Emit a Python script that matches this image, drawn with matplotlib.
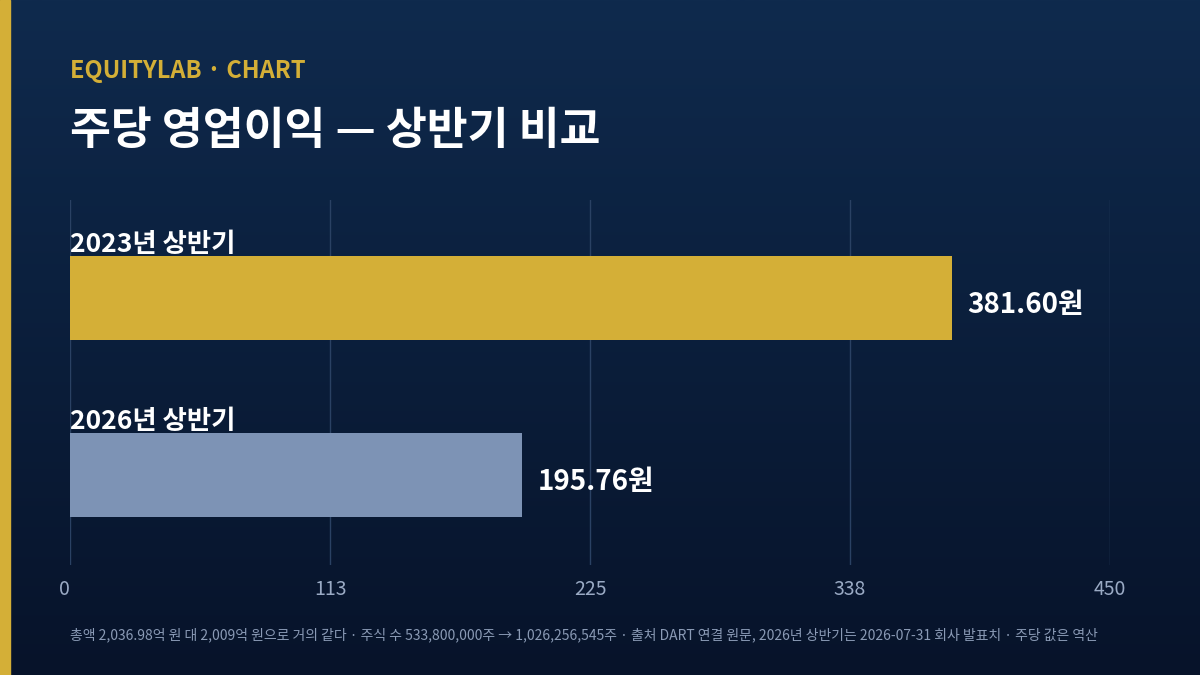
import matplotlib
matplotlib.use("Agg")
import matplotlib.pyplot as plt
import numpy as np
from matplotlib.patches import Rectangle
from matplotlib.colors import LinearSegmentedColormap

plt.rcParams['font.family'] = ['Noto Sans CJK KR', 'DejaVu Sans']

categories = ["2023년 상반기", "2026년 상반기"]
values = [381.60, 195.76]
value_labels = ["381.60원", "195.76원"]
bar_colors = ["#d4af37", "#7d93b5"]
ticks = [0, 112.5, 225, 337.5, 450]
tick_labels = ["0", "113", "225", "338", "450"]

fig = plt.figure(figsize=(12, 6.75), dpi=100)
bg = fig.add_axes([0, 0, 1, 1], zorder=-10)
grad = np.linspace(0, 1, 256).reshape(-1, 1)
cmap = LinearSegmentedColormap.from_list("bg", ["#0f2a4d", "#07132a"])
bg.imshow(grad, aspect="auto", cmap=cmap, extent=[0, 1, 0, 1])
bg.set_axis_off()
fig.patches.append(Rectangle((0, 0), 10/1200, 1, transform=fig.transFigure, color="#d4af37", zorder=5))

fig.text(70/1200, 1-71/675, "EQUITYLAB · CHART", color="#d4af37", fontsize=17, fontweight="bold", va="center")
fig.text(70/1200, 1-131/675, "주당 영업이익 — 상반기 비교", color="white", fontsize=32, fontweight="bold", va="center")
fig.text(70/1200, 1-635/675, "총액 2,036.98억 원 대 2,009억 원으로 거의 같다 · 주식 수 533,800,000주 → 1,026,256,545주 · 출처 DART 연결 원문, 2026년 상반기는 2026-07-31 회사 발표치 · 주당 값은 역산",
         color="#8a9ab5", fontsize=10, va="center")

ax = fig.add_axes([70/1200, 1-565/675, 1040/1200, 365/675])
ax.set_facecolor("none")
ypos = np.arange(len(values))
ax.barh(ypos, values, height=0.475, color=bar_colors, zorder=3)
ax.set_xlim(0, 450)
ax.set_ylim(1.508, -0.554)
for y, v, lab, cat in zip(ypos, values, value_labels, categories):
    ax.text(v + 6.5, y + 0.04, lab, color="white", fontsize=20, fontweight="bold", va="center", ha="left")
    ax.text(0, y - 0.225, cat, color="white", fontsize=19, fontweight="bold", va="bottom", ha="left", zorder=4)
ax.set_xticks(ticks)
ax.set_xticklabels(tick_labels, color="#9aaac4", fontsize=14)
ax.get_xticklabels()[0].set_horizontalalignment("right")
ax.set_yticks([])
ax.tick_params(axis="x", length=0, pad=10)
for t in ticks:
    ax.axvline(t, color="#2a4163", lw=1, zorder=1)
for s in ax.spines.values():
    s.set_visible(False)

fig.savefig("out.png", dpi=100)
